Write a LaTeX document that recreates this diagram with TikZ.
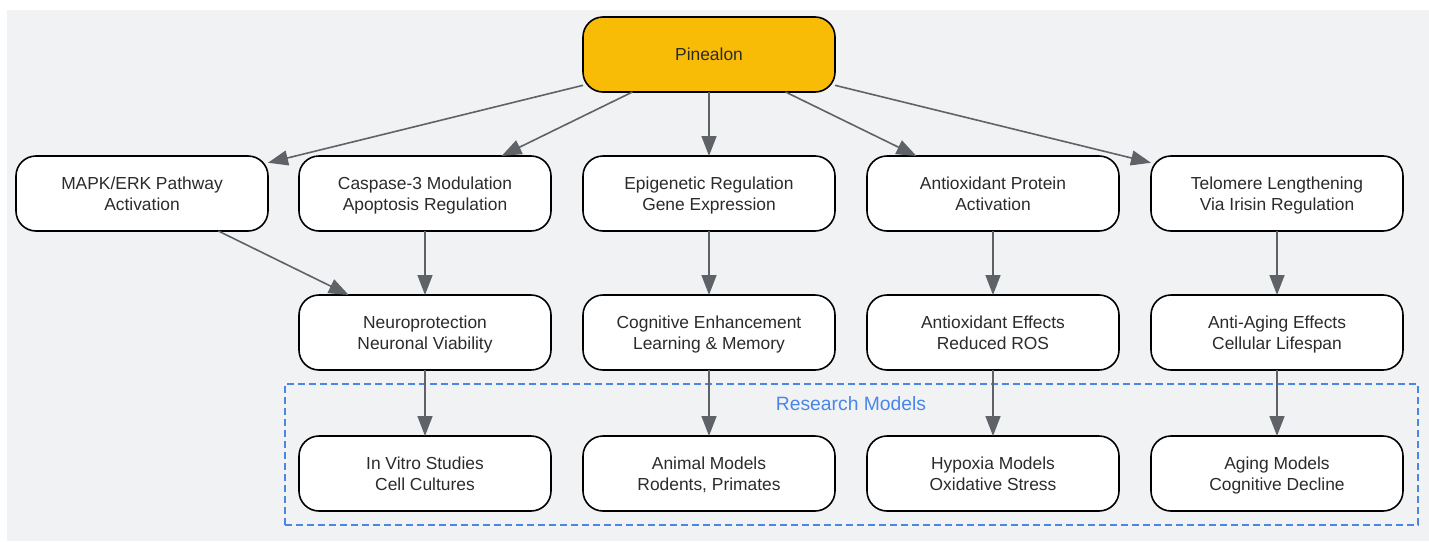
\documentclass[tikz,border=0pt]{standalone}
\usepackage{fontspec}
\setmainfont{Liberation Sans}
\usetikzlibrary{arrows.meta, positioning}
\definecolor{fondgris}{HTML}{F1F2F4}
\definecolor{jaune}{HTML}{F9BC06}
\definecolor{gristrait}{HTML}{5F6368}
\definecolor{bleu}{HTML}{4A86E8}
\definecolor{texte}{HTML}{2B2B2B}
\tikzset{
    %Define standard arrow tip
    >={Triangle[length=20pt, width=15pt]},
    %Define style for boxes
    boite/.style={
           rectangle,
           rounded corners=20pt,
           draw=black, line width=1.6pt,
           outer sep=0pt,
           fill=white,
           text=texte,
           minimum width=252pt,
           minimum height=75pt,
           align=center,
           text height=36pt,
           text depth=3pt,
           font=\fontsize{17.4}{21}\selectfont},
    % Define arrow style
    fleche/.style={
           ->,
           draw=gristrait, fill=gristrait,
           line width=1.6pt},
    % Dashed frame
    cadre/.style={
           draw=bleu, line width=1.4pt,
           dash pattern=on 7pt off 4pt}
}

\begin{document}
\begin{tikzpicture}[x=1pt, y=-1pt, node distance=64pt and 32pt]
	%
	% fond
	%
	\useasboundingbox (0,0) rectangle (1429,541);
	\fill[fondgris] (7,10) rectangle (1429,541);
	%
	% cadre
	%
	\node[cadre, minimum width=1133pt, minimum height=141pt, inner sep=0pt] (modeles) at (851.5,454.5) {};
	\node[text=bleu, font=\fontsize{19.3}{23}\selectfont] (titremod) at (851,404) {Research Models};
	%
	% noeuds
	%
	\node[boite, fill=jaune, text height=15pt] (pin) at (709,54.5) {Pinealon};
	\node[boite, below = of pin] (epi) {Epigenetic Regulation\\Gene Expression};
	\node[boite, left = of epi] (casp) {Caspase-3 Modulation\\Apoptosis Regulation};
	\node[boite, left = 31pt of casp] (mapk) {MAPK/ERK Pathway\\Activation};
	\node[boite, right = of epi] (antiprot) {Antioxidant Protein\\Activation};
	\node[boite, right = of antiprot] (telo) {Telomere Lengthening\\Via Irisin Regulation};
	%
	\node[boite, below = of casp] (neuro) {Neuroprotection\\Neuronal Viability};
	\node[boite, below = of epi] (cogn) {Cognitive Enhancement\\Learning \& Memory};
	\node[boite, below = of antiprot] (antieff) {Antioxidant Effects\\Reduced ROS};
	\node[boite, below = of telo] (antiage) {Anti-Aging Effects\\Cellular Lifespan};
	%
	\node[boite, below = 66pt of neuro] (vitro) {In Vitro Studies\\Cell Cultures};
	\node[boite, below = 66pt of cogn] (animal) {Animal Models\\Rodents, Primates};
	\node[boite, below = 66pt of antieff] (hypox) {Hypoxia Models\\Oxidative Stress};
	\node[boite, below = 66pt of antiage] (aging) {Aging Models\\Cognitive Decline};
	%
	% Liens
	%
	\draw[fleche] (pin) -- (mapk);
	\draw[fleche] (pin) -- (casp);
	\draw[fleche] (pin) -- (epi);
	\draw[fleche] (pin) -- (antiprot);
	\draw[fleche] (pin) -- (telo);
	\draw[fleche] (mapk) -- (neuro);
	\draw[fleche] (casp) -- (neuro);
	\draw[fleche] (epi) -- (cogn);
	\draw[fleche] (antiprot) -- (antieff);
	\draw[fleche] (telo) -- (antiage);
	\draw[fleche] (neuro) -- (vitro);
	\draw[fleche] (cogn) -- (animal);
	\draw[fleche] (antieff) -- (hypox);
	\draw[fleche] (antiage) -- (aging);
\end{tikzpicture}
\end{document}
